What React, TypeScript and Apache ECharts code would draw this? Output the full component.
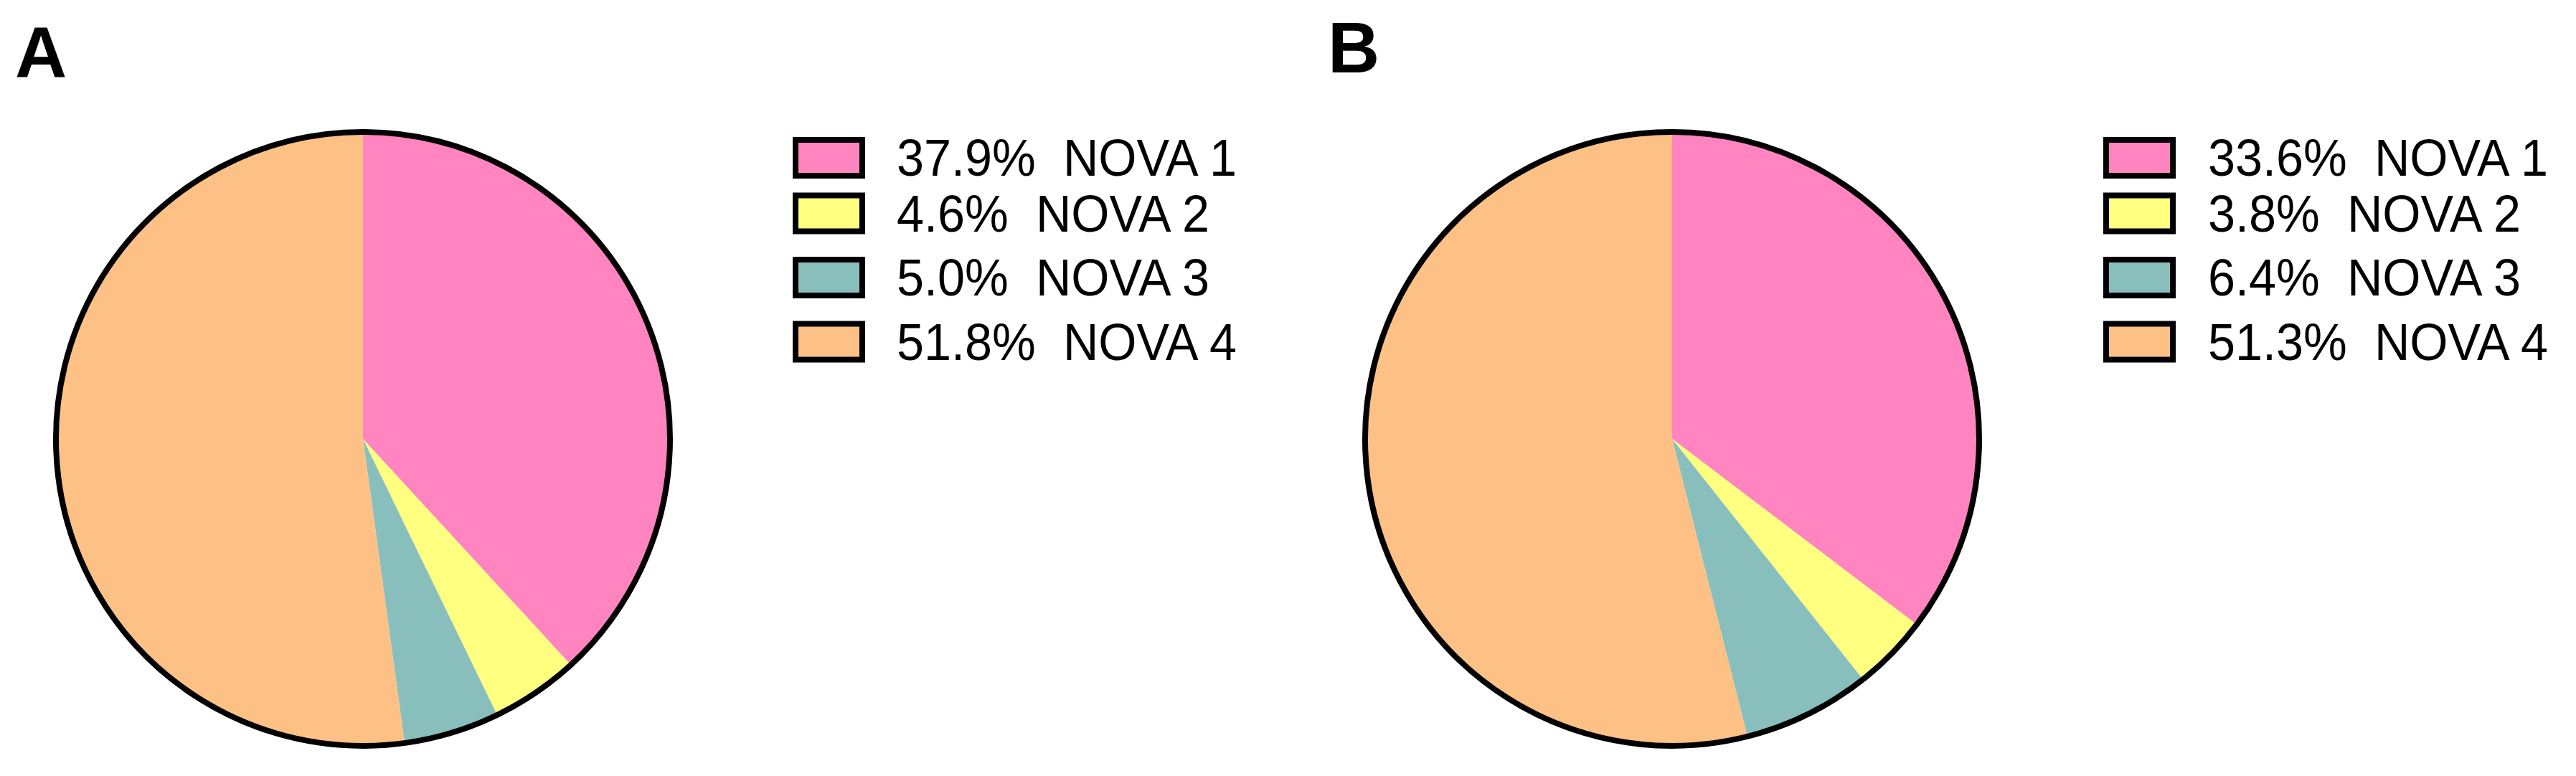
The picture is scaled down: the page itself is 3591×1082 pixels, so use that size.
import React, { useEffect, useRef } from "react";
import * as echarts from "echarts";

const categories = ["NOVA 1", "NOVA 2", "NOVA 3", "NOVA 4"];
const valuesA = [37.9, 4.6, 5.0, 51.8];
const valuesB = [33.6, 3.8, 6.4, 51.3];
const colors = ["#FF84C0", "#FFFF80", "#88BFBD", "#FDC085"];
const panelLabels = ["A", "B"];

const FONT = "'Liberation Sans', Arial, Helvetica, sans-serif";

export default function App() {
  const ref = useRef<HTMLDivElement>(null);

  useEffect(() => {
    if (!ref.current) return;
    const chart = echarts.init(ref.current, null, { renderer: "svg" });

    const panels = [
      { values: valuesA, cx: 506, legendLeft: 1109, textX: 1250 },
      { values: valuesB, cx: 2331, legendLeft: 2936, textX: 3078 },
    ];
    const cy = 612;
    const r = 428;
    const rowCenters = [220, 297.5, 387, 476.5];

    const series: any[] = [];
    const graphics: any[] = [];

    panels.forEach((p, pi) => {
      series.push({
        type: "pie",
        name: "pie" + pi,
        center: [p.cx, cy],
        radius: [0, r],
        startAngle: 90,
        clockwise: true,
        label: { show: false },
        labelLine: { show: false },
        emphasis: { disabled: true },
        silent: true,
        itemStyle: { borderWidth: 0 },
        data: categories.map((c, i) => ({
          name: c,
          value: p.values[i],
          itemStyle: { color: colors[i] },
        })),
      });
      series.push({
        type: "pie",
        name: "outline" + pi,
        center: [p.cx, cy],
        radius: [0, r],
        label: { show: false },
        labelLine: { show: false },
        emphasis: { disabled: true },
        silent: true,
        z: 5,
        data: [
          {
            name: "outline" + pi,
            value: 1,
            itemStyle: { color: "rgba(0,0,0,0)", borderColor: "#000", borderWidth: 8 },
          },
        ],
      });

      categories.forEach((c, i) => {
        const yc = rowCenters[i];
        graphics.push({
          type: "rect",
          shape: { x: p.legendLeft, y: yc - 25, width: 93, height: 50 },
          style: { fill: colors[i], stroke: "#000", lineWidth: 8 },
          silent: true,
        });
        graphics.push({
          type: "text",
          x: p.textX,
          y: yc,
          scaleX: 0.95,
          silent: true,
          style: {
            text: p.values[i].toFixed(1) + "%\u00a0\u00a0" + c,
            fontSize: 72,
            fontFamily: FONT,
            fill: "#000",
            align: "left",
            verticalAlign: "middle",
          },
        });
      });
    });

    graphics.push({
      type: "text",
      x: 21,
      y: 73,
      silent: true,
      style: {
        text: panelLabels[0],
        fontSize: 100,
        fontWeight: "bold",
        fontFamily: FONT,
        fill: "#000",
        align: "left",
        verticalAlign: "middle",
      },
    });
    graphics.push({
      type: "text",
      x: 1851,
      y: 66,
      silent: true,
      style: {
        text: panelLabels[1],
        fontSize: 100,
        fontWeight: "bold",
        fontFamily: FONT,
        fill: "#000",
        align: "left",
        verticalAlign: "middle",
      },
    });

    chart.setOption({
      animation: false,
      backgroundColor: "#ffffff",
      series,
      graphic: graphics,
    });

    return () => chart.dispose();
  }, []);

  return (
    <div
      ref={ref}
      style={{ position: "fixed", left: 0, top: 0, width: 3591, height: 1082, background: "#fff" }}
    />
  );
}
